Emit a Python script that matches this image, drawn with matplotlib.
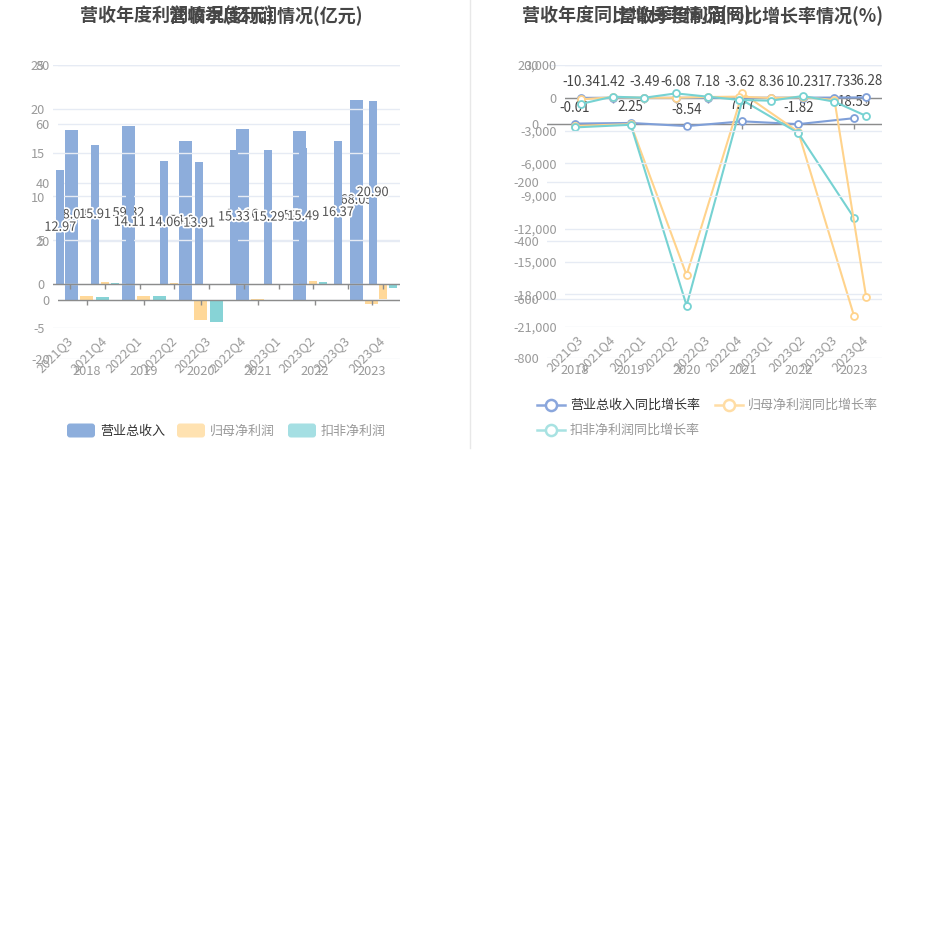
import matplotlib
matplotlib.use('Agg')
import matplotlib.pyplot as plt
from matplotlib import patheffects
from matplotlib.patches import FancyBboxPatch
from matplotlib.lines import Line2D

plt.rcParams['font.family'] = ['Noto Sans CJK SC', 'DejaVu Sans']
plt.rcParams['axes.unicode_minus'] = False

# ---- data ----
quarters = ['2021Q3', '2021Q4', '2022Q1', '2022Q2', '2022Q3',
            '2022Q4', '2023Q1', '2023Q2', '2023Q3', '2023Q4']
years = ['2018', '2019', '2020', '2021', '2022', '2023']

# bar chart (亿元)
q_revenue = [12.97, 15.91, 14.11, 14.06, 13.91, 15.33, 15.29, 15.49, 16.37, 20.90]
q_parent_np = [0.03, 0.22, 0.05, 0.08, 0.02, 0.01, -0.08, 0.32, -0.03, -1.72]
q_deduct_np = [0.02, 0.18, 0.03, 0.04, -0.03, 0.03, -0.10, 0.30, -0.06, -0.45]
y_revenue = [58.03, 59.32, 54.07, 58.16, 57.41, 68.05]
y_parent_np = [1.30, 1.36, -6.80, 0.30, 0.22, -1.40]
y_deduct_np = [1.25, 1.30, -7.40, -0.20, -0.15, -0.15]

# growth chart (%)
q_rev_g = [-10.34, 1.42, -3.49, -6.08, 7.18, -3.62, 8.36, 10.23, 17.73, 36.28]
q_np_g = [-150, 50, 0, 0, 70, 100, -20, 50, -200, -18250]
q_dnp_g = [-570, 100, 0, 400, 100, -200, -270, 160, -360, -1670]
y_rev_g = [-0.01, 2.25, -8.54, 7.77, -1.82, 18.55]
y_np_g = [-8, -2, -517, 104, -28, -657]
y_dnp_g = [-13, -4, -621, 80, -32, -322]

BLUE = '#8DADDB'
ORANGE = '#FFD899'
TEAL = '#87D3D6'
LBLUE = '#7F9FD8'
LORANGE = '#FFD38C'
LTEAL = '#76D2D2'
GRID = '#E6EBF4'
AXIS = '#8C8C8C'
TICKC = '#9A9A9A'

W, H = 935, 952
fig = plt.figure(figsize=(W / 100, H / 100), dpi=100)
fig.patch.set_facecolor('white')


def make_ax(x0, y0, x1, y1, z):
    ax = fig.add_axes([x0 / W, 1 - y1 / H, (x1 - x0) / W, (y1 - y0) / H], zorder=z)
    ax.patch.set_alpha(0)
    for s in ax.spines.values():
        s.set_visible(False)
    ax.set_axisbelow(True)
    ax.yaxis.grid(True, color=GRID, lw=1)
    ax.tick_params(axis='y', length=0, labelcolor=TICKC, labelsize=9.2, pad=5.8)
    return ax


def cat_axis(ax, labels, lo, hi, px_h, rotated):
    n = len(labels)
    ax.set_xlim(-0.5, n - 0.5)
    ax.set_ylim(lo, hi)
    ax.axhline(0, color=AXIS, lw=1, zorder=3)
    tl = 5 * (hi - lo) / px_h
    ax.vlines(range(n), 0, -tl, color=AXIS, lw=1, zorder=3)
    if rotated:
        ax.set_xticks(range(n), labels, rotation=45, ha='right', rotation_mode='anchor')
        for t in ax.get_xticklabels():
            t.set_va('center')
        ax.tick_params(axis='x', length=0, labelcolor=TICKC, labelsize=9.2, pad=7.5)
    else:
        ax.set_xticks(range(n), labels)
        ax.tick_params(axis='x', length=0, labelcolor=TICKC, labelsize=9.2, pad=4.5)


stroke = [patheffects.withStroke(linewidth=2.5, foreground='white')]

# ---- left panel: annual (bottom layer) ----
ay = make_ax(58, 65, 400, 359, 1)
cat_axis(ay, years, -20, 80, 294, False)
ay.set_yticks(range(-20, 81, 20))
xs = range(len(years))
ay.bar([i - 0.265 for i in xs], y_revenue, 0.228, color=BLUE, zorder=2)
ay.bar(list(xs), y_parent_np, 0.228, color=ORANGE, zorder=2)
ay.bar([i + 0.28 for i in xs], y_deduct_np, 0.228, color=TEAL, zorder=2)
for i, v in enumerate(y_revenue):
    ay.text(i - 0.265, v / 2, f'{v:.2f}', ha='center', va='center', fontsize=9.2,
            color='#505050', path_effects=stroke, zorder=5)

# ---- left panel: quarterly (top layer) ----
aq = make_ax(53, 65, 400, 328, 2)
cat_axis(aq, quarters, -5, 25, 263, True)
aq.set_yticks(range(-5, 26, 5))
xq = range(len(quarters))
aq.bar([i - 0.29 for i in xq], q_revenue, 0.23, color=BLUE, zorder=2)
aq.bar(list(xq), q_parent_np, 0.23, color=ORANGE, zorder=2)
aq.bar([i + 0.29 for i in xq], q_deduct_np, 0.23, color=TEAL, zorder=2)
for i, v in enumerate(q_revenue):
    aq.text(i - 0.29, v / 2, f'{v:.2f}', ha='center', va='center', fontsize=9.2,
            color='#505050', path_effects=stroke, zorder=5)

# ---- right panel: annual growth (bottom layer) ----
gy = make_ax(547, 65, 882, 358, 1)
cat_axis(gy, years, -800, 200, 293, False)
gy.set_yticks(range(-800, 201, 200))
for vals, c in [(y_rev_g, LBLUE), (y_np_g, LORANGE), (y_dnp_g, LTEAL)]:
    gy.plot(list(xs), vals, color=c, lw=1.5, marker='o', ms=5, mfc='white',
            mec=c, mew=1.3, zorder=4)
for i, v in enumerate(y_rev_g):
    gy.annotate(f'{v:.2f}', (i, v), xytext=(0, 16), textcoords='offset pixels',
                ha='center', va='center', fontsize=9.6, color='#444444', zorder=6)

# ---- right panel: quarterly growth (top layer) ----
gq = make_ax(565, 65, 882, 327, 2)
cat_axis(gq, quarters, -21000, 3000, 262, True)
gq.set_yticks(range(-21000, 3001, 3000), [f'{v:,}' for v in range(-21000, 3001, 3000)])
for vals, c in [(q_rev_g, LBLUE), (q_np_g, LORANGE), (q_dnp_g, LTEAL)]:
    gq.plot(list(xq), vals, color=c, lw=1.5, marker='o', ms=5, mfc='white',
            mec=c, mew=1.3, zorder=4)
for i, v in enumerate(q_rev_g):
    gq.annotate(f'{v:.2f}', (i, v), xytext=(0, 16), textcoords='offset pixels',
                ha='center', va='center', fontsize=9.6, color='#444444', zorder=6)

# ---- overlay: titles, legends, divider ----
ov = fig.add_axes([0, 0, 1, 1], zorder=10)
ov.set_xlim(0, W)
ov.set_ylim(H, 0)
ov.axis('off')
ov.patch.set_alpha(0)

ov.plot([470, 470], [0, 448], color='#E8E8E8', lw=1)

tkw = dict(fontsize=13, fontweight='bold', color='#464646', va='center')
ov.text(80, 15, '营收年度利润情况(亿元)', ha='left', **tkw)
ov.text(363, 15, '营收季度利润情况(亿元)', ha='right', **tkw)
ov.text(522, 15, '营收年度同比增长率情况(%)', ha='left', **tkw)
ov.text(883, 15, '营收季度利润同比增长率情况(%)', ha='right', **tkw)

leg_bar = [('营业总收入', '#8DAEDC', 67, '#333333'),
           ('归母净利润', '#FFE2B1', 177, '#999999'),
           ('扣非净利润', '#A5DFE3', 288, '#999999')]
for name, c, x0, tc in leg_bar:
    ov.add_patch(FancyBboxPatch((x0, 423.5), 28, 14, boxstyle='round,pad=0,rounding_size=3',
                                fc=c, ec='none'))
    ov.text(x0 + 33, 431, name, ha='left', va='center', fontsize=9.4, color=tc)

leg_line = [('营业总收入同比增长率', '#8AA6DC', 537, 405, '#333333'),
            ('归母净利润同比增长率', '#FFDDA5', 715, 405, '#999999'),
            ('扣非净利润同比增长率', '#A8E2E2', 537, 430, '#999999')]
for name, c, x0, yy, tc in leg_line:
    ov.add_line(Line2D([x0, x0 + 28], [yy, yy], color=c, lw=1.8))
    ov.plot([x0 + 14], [yy], marker='o', ms=8, mfc='white', mec=c, mew=1.8)
    ov.text(x0 + 33, yy, name, ha='left', va='center', fontsize=9.4, color=tc)

fig.savefig('out.png', dpi=100, facecolor='white')
